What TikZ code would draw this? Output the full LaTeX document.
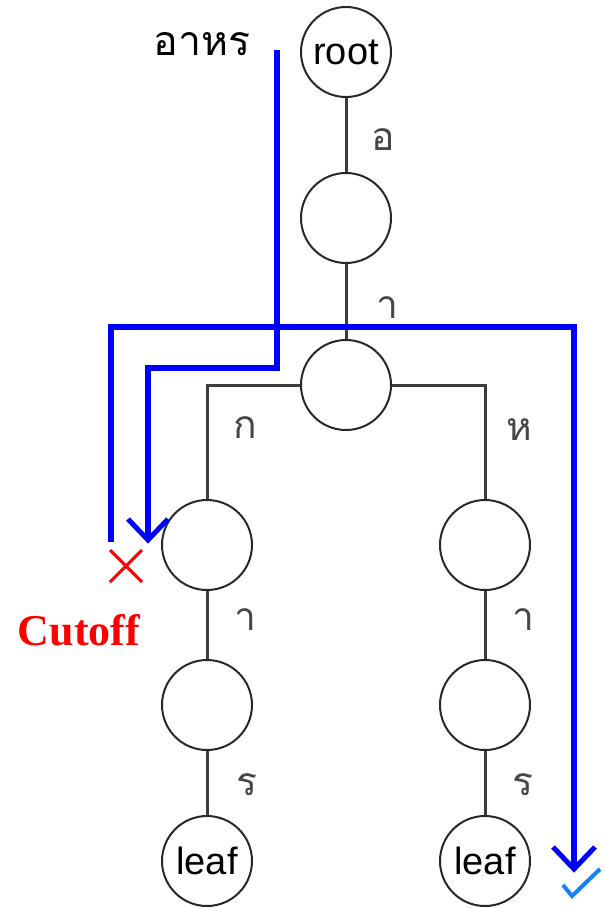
\documentclass[tikz,border=0pt]{standalone}
\usepackage{fontspec}
\usetikzlibrary{calc}
\setmainfont{Liberation Sans}
\newfontfamily\thaifont[Script=Thai]{Loma}
\newfontfamily\serifbf{Liberation Serif}
\begin{document}
\begin{tikzpicture}[x=1bp,y=-1bp,
  trienode/.style={circle,draw={rgb,255:red,40;green,40;blue,40},line width=2bp,minimum size=90bp,inner sep=0pt,
    font=\fontsize{38bp}{40bp}\selectfont},
  edge/.style={draw={rgb,255:red,60;green,60;blue,60},line width=3bp},
  elabel/.style={text={rgb,255:red,70;green,70;blue,70},font=\thaifont\fontsize{39bp}{40bp}\selectfont,inner sep=0pt},
  bluepath/.style={draw={rgb,255:red,0;green,0;blue,255},line width=6bp,line join=miter},
  bluehead/.style={draw={rgb,255:red,0;green,0;blue,255},line width=5bp,line join=miter,line cap=butt}
]
\useasboundingbox (0,0) rectangle (606,908);
% nodes
\node[trienode] (root) at (346,52) {root};
\node[trienode] (n2) at (346,218) {};
\node[trienode] (n3) at (346,385) {};
\node[trienode] (l1) at (207,545) {};
\node[trienode] (l2) at (207,705) {};
\node[trienode] (l3) at (207,861) {leaf};
\node[trienode] (r1) at (485,545) {};
\node[trienode] (r2) at (485,705) {};
\node[trienode] (r3) at (485,861) {leaf};
% edges
\draw[edge] (root) -- (n2);
\draw[edge] (n2) -- (n3);
\draw[edge] (n3.west) -| (l1.north);
\draw[edge] (n3.east) -| (r1.north);
\draw[edge] (l1) -- (l2);
\draw[edge] (l2) -- (l3);
\draw[edge] (r1) -- (r2);
\draw[edge] (r2) -- (r3);
% edge labels
\node[elabel] (e1) at (383,140) {อ};
\node[elabel] (e2) at (387,308) {า};
\node[elabel] (e3) at (245,428) {ก};
\node[elabel] (e4) at (519,430) {ห};
\node[elabel] (e5) at (245,620) {า};
\node[elabel] (e6) at (523,620) {า};
\node[elabel] (e7) at (247,785) {ร};
\node[elabel] (e8) at (523,785) {ร};
% query word
\node[font=\thaifont\fontsize{41bp}{42bp}\selectfont,inner sep=0pt] (query) at (202,44) {อาหร};
% blue path 1 (inner)
\coordinate (a1) at (277,50);
\coordinate (a2) at (277,368);
\coordinate (a3) at (148,368);
\coordinate (a4) at (148,540);
\draw[bluepath] (a1) -- (a2) -- (a3) -- (a4);
\draw[bluehead] ($(a4)+(-20,-21)$) -- (a4) -- ($(a4)+(20,-21)$);
% blue path 2 (outer)
\coordinate (b1) at (111,542);
\coordinate (b2) at (111,327);
\coordinate (b3) at (574,327);
\coordinate (b4) at (574,869);
\draw[bluepath] (b1) -- (b2) -- (b3) -- (b4);
\draw[bluehead] ($(b4)+(-21,-22)$) -- (b4) -- ($(b4)+(21,-22)$);
% cross
\coordinate (x0) at (126,566);
\draw[red,line width=3bp] ($(x0)+(-16,-16)$) -- ($(x0)+(16,16)$) ($(x0)+(-16,16)$) -- ($(x0)+(16,-16)$);
\node[text=red,font=\serifbf\bfseries\fontsize{44bp}{46bp}\selectfont,inner sep=0pt] (cut) at (79,630) {Cutoff};
% check
\coordinate (c0) at (572,896);
\draw[draw={rgb,255:red,20;green,130;blue,250},line width=4bp] ($(c0)+(-9,-11)$) -- (c0) -- ($(c0)+(28,-27)$);
\end{tikzpicture}
\end{document}
